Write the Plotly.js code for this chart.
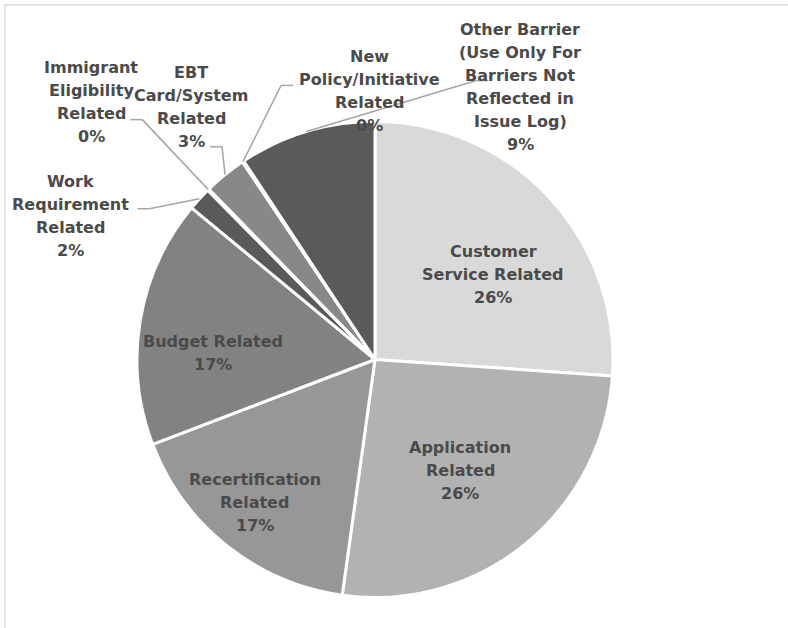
<!DOCTYPE html>
<html>
<head>
<meta charset="utf-8">
<script src="https://cdn.plot.ly/plotly-3.0.1.min.js"></script>
<style>html,body{margin:0;padding:0;background:#fff;}#chart{width:788px;height:628px;}</style>
</head>
<body>
<div id="chart"></div>
<script>
// ---- data ----
const categories = [
  'Customer<br>Service Related',
  'Application<br>Related',
  'Recertification<br>Related',
  'Budget Related',
  'Work<br>Requirement<br>Related',
  'Immigrant<br>Eligibility<br>Related',
  'EBT<br>Card/System<br>Related',
  'New<br>Policy/Initiative<br>Related',
  'Other Barrier<br>(Use Only For<br>Barriers Not<br>Reflected in<br>Issue Log)'
];
const shares = [26.1, 26.1, 17.0, 16.8, 1.6, 0.1, 2.9, 0.1, 9.3];
const sliceColors = ['#d9d9d9', '#b2b2b2', '#979797', '#828282', '#5a5a5a', '#6e6e6e', '#888888', '#707070', '#5a5a5a'];

// ---- layout / style ----
const W = 788, H = 628;
const CX = 375, CY = 359.5, R = 238;
const FONT = {family: 'DejaVu Sans, Arial, sans-serif', size: 16, color: '#4a4a4a', weight: 'bold'};
const LINE_H = 23;
// inside label placement: radius fraction and angle shift (deg) relative to slice mid-angle
const insideStyle = {0: {r: 0.61, da: 7.4}, 1: {r: 0.586, da: 1.5}, 2: {r: 0.786, da: 1.4}, 3: {r: 0.68, da: -7}};
// outside label placement: label centre offset from slice edge midpoint (px), and leader attach offset from label centre
const outsideStyle = {
  4: {ox: -129, oy: 17, ax: 67, ay: -7},
  5: {ox: -117, oy: -88, ax: 39, ay: 18},
  6: {ox: -34, oy: -68, ax: 19, ay: 40},
  7: {ox: 126, oy: -70, ax: -76, ay: -6},
  8: {ox: 214, oy: -45, ax: -32, ay: -6}
};

const fx = x => x / W;
const fy = y => 1 - y / H;

const total = shares.reduce((a, b) => a + b, 0);
let cum = 0;
const annotations = [];
const shapes = [];

// chart border (top + left visible)
shapes.push({type: 'rect', xref: 'paper', yref: 'paper', x0: fx(5), x1: fx(820), y0: fy(5), y1: fy(700),
  line: {color: '#d9d9d9', width: 1.5}, fillcolor: 'rgba(0,0,0,0)', layer: 'below'});

shares.forEach((v, i) => {
  const a0 = cum / total * 360;
  cum += v;
  const a1 = cum / total * 360;
  const mid = (a0 + a1) / 2;
  const lines = categories[i].split('<br>').concat([Math.round(v / total * 100) + '%']);
  let lx, ly;
  if (insideStyle[i]) {
    const s = insideStyle[i];
    const t = (mid + s.da) * Math.PI / 180;
    lx = CX + s.r * R * Math.sin(t);
    ly = CY - s.r * R * Math.cos(t);
  } else {
    const s = outsideStyle[i];
    const t = mid * Math.PI / 180;
    const tx = CX + R * Math.sin(t), ty = CY - R * Math.cos(t);
    lx = tx + s.ox; ly = ty + s.oy;
    const px = lx + s.ax, py = ly + s.ay;
    const ex = px + (tx > px ? 12 : -12);
    const lc = {color: '#a6a6a6', width: 1.5};
    shapes.push({type: 'line', xref: 'paper', yref: 'paper', x0: fx(px), y0: fy(py), x1: fx(ex), y1: fy(py), line: lc});
    shapes.push({type: 'line', xref: 'paper', yref: 'paper', x0: fx(ex), y0: fy(py), x1: fx(tx), y1: fy(ty), line: lc});
  }
  const n = lines.length;
  lines.forEach((txt, k) => {
    annotations.push({
      xref: 'paper', yref: 'paper', x: fx(lx), y: fy(ly + (k - (n - 1) / 2) * LINE_H),
      text: txt, showarrow: false, xanchor: 'center', yanchor: 'middle', font: FONT
    });
  });
});

const trace = {
  type: 'pie',
  labels: categories,
  values: shares,
  sort: false,
  direction: 'clockwise',
  rotation: 0,
  textinfo: 'none',
  hoverinfo: 'none',
  marker: {colors: sliceColors, line: {color: '#ffffff', width: 3}},
  domain: {x: [fx(CX - R), fx(CX + R)], y: [fy(CY + R), fy(CY - R)]}
};

const layout = {
  width: W, height: H,
  margin: {l: 0, r: 0, t: 0, b: 0},
  paper_bgcolor: '#ffffff',
  showlegend: false,
  shapes: shapes,
  annotations: annotations
};

Plotly.newPlot('chart', [trace], layout, {displayModeBar: false, staticPlot: true});
</script>
</body>
</html>
